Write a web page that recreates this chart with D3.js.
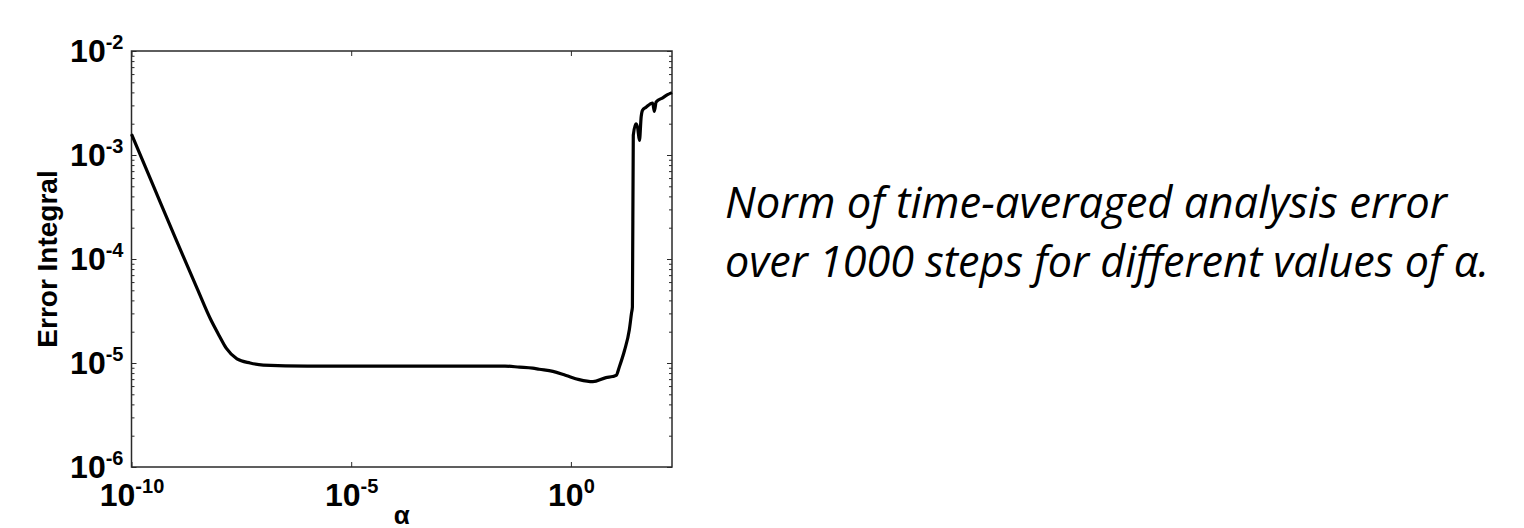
<!DOCTYPE html>
<html>
<head>
<meta charset="utf-8">
<script src="https://cdn.jsdelivr.net/npm/d3@7"></script>
<style>
  body { margin: 0; background: #fff; }
  svg { display: block; }
  .axis path, .axis line { stroke: #2a2a2a; }
  .axis text { font-family: "Liberation Sans", Arial, sans-serif; font-weight: bold; fill: #000; }
</style>
</head>
<body>
<div id="chart"></div>
<script>
// alpha (log10) and error integral (log10)
const alphaExp = [-10, -9.5, -9, -8.5, -8.2, -8, -7.84, -7.6, -7.3, -7, -6, -5, -4, -3, -2,
  -1.5, -1.17, -0.87, -0.72, -0.41, -0.11, 0.19, 0.5, 0.8, 0.95, 1.03, 1.1, 1.22, 1.33,
  1.38, 1.4, 1.42, 1.48, 1.52, 1.56, 1.6, 1.63, 1.71, 1.86, 1.9, 1.94, 2.09, 2.2, 2.3];
const errExp = [-2.8, -3.3, -3.8, -4.29, -4.58, -4.74, -4.86, -4.96, -5.0, -5.02, -5.03, -5.03, -5.03, -5.03, -5.03,
  -5.03, -5.04, -5.05, -5.06, -5.08, -5.12, -5.16, -5.18, -5.14, -5.13, -5.12, -5.04, -4.88, -4.68,
  -4.52, -4.46, -2.81, -2.7, -2.74, -2.86, -2.63, -2.57, -2.54, -2.5, -2.58, -2.49, -2.45, -2.42, -2.4];

const xTickExp = [-10, -5, 0];
const yTickExp = [-6, -5, -4, -3, -2];
const xDomain = [1e-10, 200];
const yDomain = [1e-6, 1e-2];

const caption = [
  "Norm of time-averaged analysis error",
  "over 1000 steps for different values of \u03b1."
];

const data = alphaExp.map((a, i) => ({ alpha: Math.pow(10, a), err: Math.pow(10, errExp[i]) }));

let width = 1524,
  height = 528,
  margin = { top: 51, left: 131.5, right: 852, bottom: 61 };

const svg = d3.select("#chart").append("svg")
  .attr("width", width)
  .attr("height", height);

// SCALES
const xScale = d3.scaleLog()
  .domain(xDomain)
  .range([margin.left, width - margin.right]);

const yScale = d3.scaleLog()
  .domain(yDomain)
  .range([height - margin.bottom, margin.top]);

const yMinor = [];
yTickExp.slice(0, -1).forEach((e) => {
  for (let k = 2; k <= 9; k++) yMinor.push(k * Math.pow(10, e));
});

function supLabels(sel, sup) {
  sel.selectAll(".tick text").each(function (d) {
    const t = d3.select(this);
    const e = Math.round(Math.log10(d));
    t.text(null).style("font-size", "32px");
    t.append("tspan").style("font-size", "32px").text("10");
    t.append("tspan").style("font-size", "20px").attr("dy", sup).text(e);
  });
}

// minor y ticks, left and right
svg.append("g").attr("class", "axis")
  .attr("transform", `translate(${margin.left},0)`)
  .call(d3.axisLeft(yScale).tickValues(yMinor).tickSize(-3).tickFormat(""))
  .call((g) => g.select(".domain").remove());
svg.append("g").attr("class", "axis")
  .attr("transform", `translate(${width - margin.right},0)`)
  .call(d3.axisRight(yScale).tickValues(yMinor).tickSize(-3).tickFormat(""))
  .call((g) => g.select(".domain").remove());

// major y ticks
svg.append("g").attr("class", "axis y-axis")
  .attr("transform", `translate(${margin.left},0)`)
  .call(d3.axisLeft(yScale).tickValues(yTickExp.map((e) => Math.pow(10, e))).tickSize(-5).tickPadding(8))
  .call((g) => g.select(".domain").remove())
  .call((g) => supLabels(g, -13));
svg.append("g").attr("class", "axis")
  .attr("transform", `translate(${width - margin.right},0)`)
  .call(d3.axisRight(yScale).tickValues(yTickExp.map((e) => Math.pow(10, e))).tickSize(-5).tickFormat(""))
  .call((g) => g.select(".domain").remove());

// x ticks, bottom and top
svg.append("g").attr("class", "axis x-axis")
  .attr("transform", `translate(0,${height - margin.bottom})`)
  .call(d3.axisBottom(xScale).tickValues(xTickExp.map((e) => Math.pow(10, e))).tickSize(-5).tickPadding(16))
  .call((g) => g.select(".domain").remove())
  .call((g) => supLabels(g, -13));
svg.append("g").attr("class", "axis")
  .attr("transform", `translate(0,${margin.top})`)
  .call(d3.axisTop(xScale).tickValues(xTickExp.map((e) => Math.pow(10, e))).tickSize(-5).tickFormat(""))
  .call((g) => g.select(".domain").remove());

// box
svg.append("rect")
  .attr("x", margin.left)
  .attr("y", margin.top)
  .attr("width", width - margin.right - margin.left)
  .attr("height", height - margin.bottom - margin.top)
  .attr("fill", "none")
  .attr("stroke", "#2a2a2a")
  .attr("stroke-width", 1.5);

// curve
const line = d3.line()
  .x((d) => xScale(d.alpha))
  .y((d) => yScale(d.err))
  .curve(d3.curveMonotoneX);

svg.append("path")
  .datum(data)
  .attr("fill", "none")
  .attr("stroke", "#000")
  .attr("stroke-width", 3.2)
  .attr("stroke-linejoin", "round")
  .attr("d", line);

// axis labels
svg.append("text")
  .attr("transform", `translate(57,${(margin.top + height - margin.bottom) / 2}) rotate(-90)`)
  .attr("text-anchor", "middle")
  .attr("font-family", "Liberation Sans, Arial, sans-serif")
  .attr("font-weight", "bold")
  .style("font-size", "28px")
  .text("Error Integral");

svg.append("text")
  .attr("x", (margin.left + width - margin.right) / 2)
  .attr("y", 524)
  .attr("text-anchor", "middle")
  .attr("font-family", "Liberation Sans, Arial, sans-serif")
  .attr("font-weight", "bold")
  .style("font-size", "26px")
  .text("\u03b1");

// caption
svg.selectAll(".caption")
  .data(caption)
  .join("text")
  .attr("class", "caption")
  .attr("x", 725)
  .attr("y", (d, i) => 218 + i * 59)
  .attr("font-family", "Open Sans, Noto Sans, sans-serif")
  .attr("font-style", "italic")
  .style("font-size", "44px")
  .attr("textLength", (d, i) => (i === 0 ? 722 : 764))
  .attr("lengthAdjust", "spacingAndGlyphs")
  .text((d) => d);
</script>
</body>
</html>
